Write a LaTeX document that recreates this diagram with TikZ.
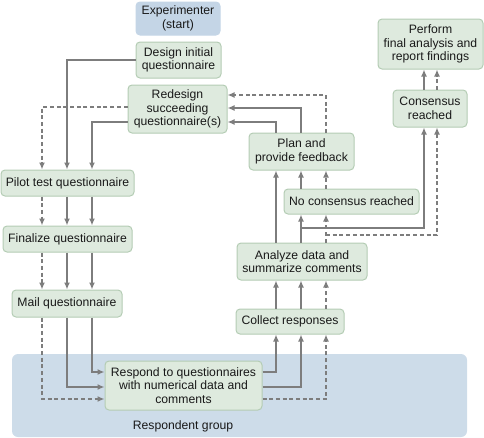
\documentclass[tikz,border=0pt]{standalone}
\usepackage{fontspec}
\setmainfont{Liberation Sans}
\usetikzlibrary{arrows.meta}
\definecolor{boxfill}{RGB}{222,234,222}
\definecolor{boxline}{RGB}{180,204,180}
\definecolor{bluefill}{RGB}{196,213,230}
\definecolor{groupfill}{RGB}{205,220,233}
\definecolor{linegray}{RGB}{125,125,125}
\definecolor{txt}{RGB}{25,25,25}
\begin{document}
\begin{tikzpicture}[x=1pt,y=-1pt,
  box/.style={draw=boxline, line width=1pt, fill=boxfill, rounded corners=4pt, align=center, inner sep=0pt, text=txt, font=\fontsize{12.2}{13.5}\selectfont},
  arr/.style={draw=linegray, line width=1.5pt, -{Latex[length=7pt,width=6pt]}},
  dsh/.style={dash pattern=on 4pt off 2.7pt}]
\useasboundingbox (0,0) rectangle (484,437);
% background group
\node[fill=groupfill, rounded corners=6pt, minimum width=455pt, minimum height=83pt, inner sep=0pt] (group) at (239.5,395.5) {};
\node[text=txt, font=\fontsize{12.2}{13.5}\selectfont] (grouplabel) at (183,426) {Respondent group};
% nodes
\node[box, fill=bluefill, draw=bluefill, minimum width=84pt, minimum height=33pt] (exp) at (178,18.5) {Experimenter\\(start)};
\node[box, minimum width=85pt, minimum height=36pt] (design) at (178.5,60) {Design initial\\questionnaire};
\node[box, minimum width=99pt, minimum height=48pt] (redesign) at (177.5,109) {Redesign\\succeeding\\questionnaire(s)};
\node[box, minimum width=133pt, minimum height=26pt] (pilot) at (67.5,183) {Pilot test questionnaire};
\node[box, minimum width=129pt, minimum height=26pt] (finalize) at (67.5,239) {Finalize questionnaire};
\node[box, minimum width=110pt, minimum height=27pt] (mail) at (67,303.5) {Mail questionnaire};
\node[box, minimum width=157pt, minimum height=49pt] (respond) at (183.5,385.5) {Respond to questionnaires\\with numerical data and\\comments};
\node[box, minimum width=108pt, minimum height=25pt] (collect) at (290,321.5) {Collect responses};
\node[box, minimum width=130pt, minimum height=37pt] (analyze) at (302,261.5) {Analyze data and\\summarize comments};
\node[box, minimum width=135pt, minimum height=25pt] (nocons) at (351.5,201.5) {No consensus reached};
\node[box, minimum width=105pt, minimum height=37pt] (plan) at (301.5,151.5) {Plan and\\provide feedback};
\node[box, minimum width=74pt, minimum height=37pt] (consensus) at (430,108.5) {Consensus\\reached};
\node[box, minimum width=105pt, minimum height=50pt] (perform) at (430.5,44) {Perform\\final analysis and\\report findings};
% column / row helpers
\coordinate (xA) at (42,0);
\coordinate (xB) at (67,0);
\coordinate (xC) at (92,0);
\coordinate (xD) at (276,0);
\coordinate (xE) at (301,0);
\coordinate (xF) at (326,0);
\coordinate (xG) at (424,0);
\coordinate (xH) at (437,0);
\coordinate (br1) at (0,228);
\coordinate (br2) at (0,235);
% left side
\draw[arr] (design.west) -| (xB |- pilot.north);
\draw[arr,dsh] ([yshift=2pt]redesign.west) -| (xA |- pilot.north);
\draw[arr] ([yshift=-13pt]redesign.west) -| (xC |- pilot.north);
\draw[arr,dsh] (xA |- pilot.south) -- (xA |- finalize.north);
\draw[arr] (xB |- pilot.south) -- (xB |- finalize.north);
\draw[arr] (xC |- pilot.south) -- (xC |- finalize.north);
\draw[arr,dsh] (xA |- finalize.south) -- (xA |- mail.north);
\draw[arr] (xB |- finalize.south) -- (xB |- mail.north);
\draw[arr] (xC |- finalize.south) -- (xC |- mail.north);
\draw[arr,dsh] (xA |- mail.south) |- ([yshift=-13.5pt]respond.west);
\draw[arr] (xB |- mail.south) |- ([yshift=-1.5pt]respond.west);
\draw[arr] (xC |- mail.south) |- ([yshift=13.5pt]respond.west);
% right side
\draw[arr] ([yshift=13.5pt]respond.east) -| (xD |- collect.south);
\draw[arr] ([yshift=-1.5pt]respond.east) -| (xE |- collect.south);
\draw[arr,dsh] ([yshift=-13.5pt]respond.east) -| (xF |- collect.south);
\draw[arr] (xD |- collect.north) -- (xD |- analyze.south);
\draw[arr] (xE |- collect.north) -- (xE |- analyze.south);
\draw[arr,dsh] (xF |- collect.north) -- (xF |- analyze.south);
\draw[arr] (xD |- analyze.north) -- (xD |- plan.south);
\draw[arr] (xE |- analyze.north) -- (xE |- nocons.south);
\draw[arr,dsh] (xF |- analyze.north) -- (xF |- nocons.south);
\draw[arr] (xE |- br1) -| (xG |- consensus.south);
\draw[arr,dsh] (xF |- br2) -| (xH |- consensus.south);
\draw[arr] (xE |- nocons.north) -- (xE |- plan.south);
\draw[arr,dsh] (xF |- nocons.north) -- (xF |- plan.south);
\draw[arr] (xD |- plan.north) |- ([yshift=-13pt]redesign.east);
\draw[arr] (xE |- plan.north) |- ([yshift=1pt]redesign.east);
\draw[arr,dsh] (xF |- plan.north) |- ([yshift=14pt]redesign.east);
\draw[arr] (xG |- consensus.north) -- (xG |- perform.south);
\draw[arr,dsh] (xH |- consensus.north) -- (xH |- perform.south);
\end{tikzpicture}
\end{document}
